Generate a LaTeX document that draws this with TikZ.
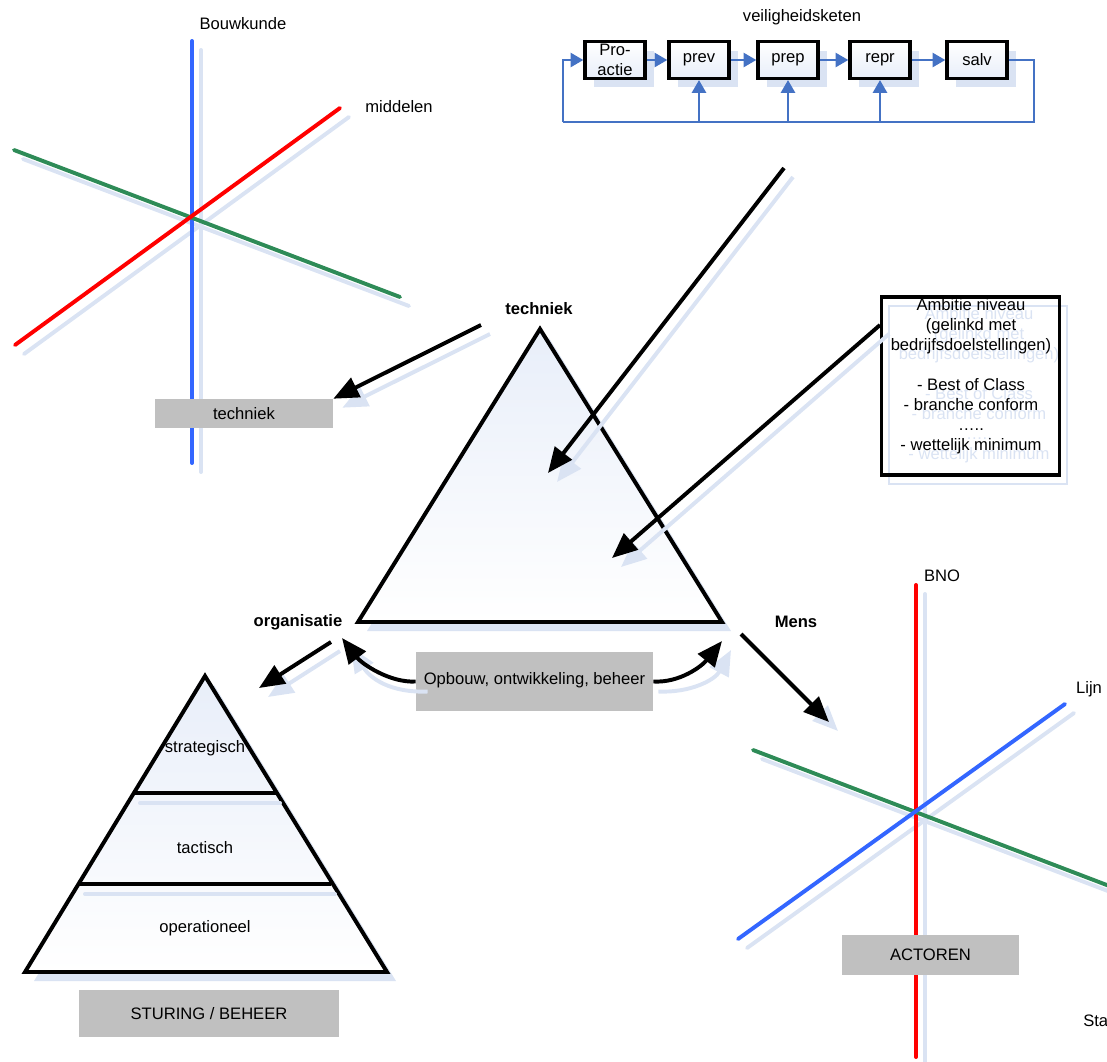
\documentclass[tikz,border=0pt]{standalone}
\usepackage{fontspec}
\setmainfont{Liberation Sans}
\usetikzlibrary{arrows.meta, positioning}

\definecolor{axisblue}{RGB}{51,102,255}
\definecolor{axisred}{RGB}{255,0,0}
\definecolor{axisgreen}{RGB}{46,139,87}
\definecolor{boxgrey}{RGB}{192,192,192}
\definecolor{shadowblue}{RGB}{218,227,243}
\definecolor{chainblue}{RGB}{68,114,196}
\definecolor{facetop}{RGB}{232,238,249}

\newcommand{\txt}{\fontsize{11.8}{14.2}\selectfont}
\newcommand{\ambitietext}{Ambitie niveau\\(gelinkd met\\bedrijfsdoelstellingen)\\[14.2pt]- Best of Class\\- branche conform\\…..\\- wettelijk minimum}

\tikzset{
  every node/.style={font=\txt, inner sep=0pt},
  axis/.style={line width=2.8pt, line cap=round},
  axisshadow/.style={axis, draw=shadowblue},
  greybox/.style={fill=boxgrey},
  bigarrow/.style={-{Triangle[length=18pt,width=15pt]}, line width=2.8pt},
  bigshadow/.style={bigarrow, draw=shadowblue},
  face/.style={draw, line width=2.8pt, line join=miter, top color=facetop, bottom color=white},
  faceshadow/.style={fill=shadowblue},
  kbox/.style={draw, line width=2.4pt, top color=white, bottom color=facetop, minimum width=1.5cm, minimum height=0.92cm, align=center},
  kshadow/.style={fill=shadowblue, minimum width=1.5cm, minimum height=0.92cm},
  chainarrow/.style={-{Triangle[length=9pt,width=10pt]}, line width=1.5pt, draw=chainblue},
  chainline/.style={line width=1.5pt, draw=chainblue},
}

\begin{document}
\begin{tikzpicture}[x=0.025cm, y=-0.025cm]
  \useasboundingbox (0,0) rectangle (1107,1061);

  % assen techniek
  \coordinate (bkTop) at (192,41);
  \coordinate (bkBot) at (192,463);
  \coordinate (mdLow) at (15,345);
  \coordinate (mdHigh) at (340,108);
  \coordinate (grLeft) at (14,150);
  \coordinate (grRight) at (400,297);
  \foreach \a/\b in {bkTop/bkBot, mdLow/mdHigh, grLeft/grRight}
    \draw[axisshadow] ([shift={(9,9)}]\a) -- ([shift={(9,9)}]\b);
  \draw[axis, axisblue] (bkTop) -- (bkBot);
  \draw[axis, axisgreen] (grLeft) -- (grRight);
  \draw[axis, axisred] (mdLow) -- (mdHigh);
  \node (bouwkunde) at (243,24) {Bouwkunde};
  \node (middelen) at (399,107) {middelen};
  \node[greybox, minimum width=4.45cm, minimum height=0.725cm] (techBox) at (244,413.5) {techniek};

  % assen actoren
  \coordinate (bnoTop) at (916,585);
  \coordinate (bnoBot) at (916,1057);
  \coordinate (lijnLow) at (738,939);
  \coordinate (lijnHigh) at (1065,704);
  \coordinate (stLeft) at (753,750);
  \coordinate (stRight) at (1112,887);
  \foreach \a/\b in {bnoTop/bnoBot, lijnLow/lijnHigh, stLeft/stRight}
    \draw[axisshadow] ([shift={(9,9)}]\a) -- ([shift={(9,9)}]\b);
  \draw[axis, axisred] (bnoTop) -- (bnoBot);
  \draw[axis, axisgreen] (stLeft) -- (stRight);
  \draw[axis, axisblue] (lijnLow) -- (lijnHigh);
  \node (bno) at (942,576) {BNO};
  \node (lijn) at (1089,689) {Lijn};
  \node[anchor=west] (staf) at (1083,1021) {Sta};
  \node[greybox, minimum width=4.425cm, minimum height=1cm] (actoren) at (930.5,955) {ACTOREN};

  % veiligheidsketen
  \node (keten) at (802,17) {veiligheidsketen};
  \foreach \n/\x in {pro/615, prev/699, prep/788, repr/880, salv/977}
    \node[kshadow] (\n Shadow) at (\x+9,69) {};
  \node[kbox] (pro) at (615,60) {Pro-\\actie};
  \node[kbox] (prev) at (699,60) {prev};
  \node[kbox] (prep) at (788,60) {prep};
  \node[kbox] (repr) at (880,60) {repr};
  \node[kbox] (salv) at (977,60) {salv};
  \coordinate (loopR) at (1034,122);
  \coordinate (loopL) at (563,122);
  \draw[chainline] (salv.east) -| (loopR) -- (loopL);
  \draw[chainarrow] (loopL) |- (pro.west);
  \draw[chainarrow] (pro) -- (prev);
  \draw[chainarrow] (prev) -- (prep);
  \draw[chainarrow] (prep) -- (repr);
  \draw[chainarrow] (repr) -- (salv);
  \foreach \n in {prev, prep, repr}
    \draw[chainarrow] (\n.south |- loopL) -- (\n.south);

  % ambitie
  \draw[line width=1.5pt, shadowblue] (889,306) rectangle (1067,484);
  \node[align=center, text=shadowblue] (ambShadow) at (979,385) {\ambitietext};
  \node[draw, line width=2.2pt, minimum width=4.45cm, minimum height=4.45cm] (amb) at (970.5,386) {};
  \node[align=center] (ambText) at (971,376) {\ambitietext};

  % driehoek
  \coordinate (tTop) at (540,329);
  \coordinate (tLeft) at (358,622);
  \coordinate (tRight) at (722,622);
  \fill[faceshadow] ([shift={(9,9)}]tTop) -- ([shift={(9,9)}]tLeft) -- ([shift={(9,9)}]tRight) -- cycle;
  \draw[face] (tTop) -- (tLeft) -- (tRight) -- cycle;
  \node[font=\txt\bfseries] (techLabel) at (539,309) {techniek};
  \node[font=\txt\bfseries] (orgLabel) at (298,622) {organisatie};
  \node[font=\txt\bfseries] (mensLabel) at (796,622) {Mens};

  % pijlen
  \coordinate (techStart) at (481,325);
  \coordinate (chainStart) at (784,168);
  \coordinate (chainEnd) at (548,473);
  \coordinate (ambStart) at (880,325);
  \coordinate (ambEnd) at (612,558);
  \coordinate (orgStart) at (331,642);
  \coordinate (orgEnd) at (259,688);
  \coordinate (mensStart) at (741,634);
  \coordinate (mensEnd) at (829,722);
  \coordinate (orgTip) at (342,638);
  \coordinate (mensTip) at (722,641);
  \foreach \a/\b in {techStart/techBox.north east, chainStart/chainEnd, ambStart/ambEnd, orgStart/orgEnd, mensStart/mensEnd}
    \draw[bigshadow] ([shift={(9,9)}]\a) -- ([shift={(9,9)}]\b);
  \draw[bigarrow] (techStart) -- (techBox.north east);
  \draw[bigarrow] (chainStart) -- (chainEnd);
  \draw[bigarrow] (ambStart) -- (ambEnd);
  \draw[bigarrow] (orgStart) -- (orgEnd);
  \draw[bigarrow] (mensStart) -- (mensEnd);

  \node[greybox, minimum width=5.925cm, minimum height=1.475cm] (opbouw) at (534.5,681.5) {};
  \draw[bigshadow] ([shift={(12,10)}]opbouw.west) .. controls (390,693) and (370,678) .. ([shift={(9,9)}]orgTip);
  \draw[bigshadow] ([shift={(5,10)}]opbouw.east) .. controls (690,693) and (715,680) .. ([shift={(9,9)}]mensTip);
  \draw[bigarrow] (opbouw.west) .. controls (390,683) and (362,664) .. (orgTip);
  \draw[bigarrow] (opbouw.east) .. controls (680,683) and (702,666) .. (mensTip);
  \node (opbouwText) at (534.5,680) {Opbouw, ontwikkeling, beheer};

  % piramide
  \coordinate (pTop) at (205,676);
  \coordinate (pLeft) at (25,972);
  \coordinate (pRight) at (387,972);
  \coordinate (pA1) at (134,793);
  \coordinate (pA2) at (276,793);
  \coordinate (pB1) at (79,884);
  \coordinate (pB2) at (331,884);
  \fill[faceshadow] ([shift={(9,9)}]pTop) -- ([shift={(9,9)}]pLeft) -- ([shift={(9,9)}]pRight) -- cycle;
  \draw[face] (pTop) -- (pLeft) -- (pRight) -- cycle;
  \draw[axisshadow] ([shift={(6,10)}]pA1) -- ([shift={(4,10)}]pA2);
  \draw[axisshadow] ([shift={(6,10)}]pB1) -- ([shift={(4,10)}]pB2);
  \draw[line width=2.8pt] (pA1) -- (pA2);
  \draw[line width=2.8pt] (pB1) -- (pB2);
  \node (strategisch) at (205,748) {strategisch};
  \node (tactisch) at (205,848) {tactisch};
  \node (operationeel) at (205,928) {operationeel};
  \node[greybox, minimum width=6.5cm, minimum height=1.175cm] (sturing) at (209,1013.5) {STURING / BEHEER};
\end{tikzpicture}
\end{document}
